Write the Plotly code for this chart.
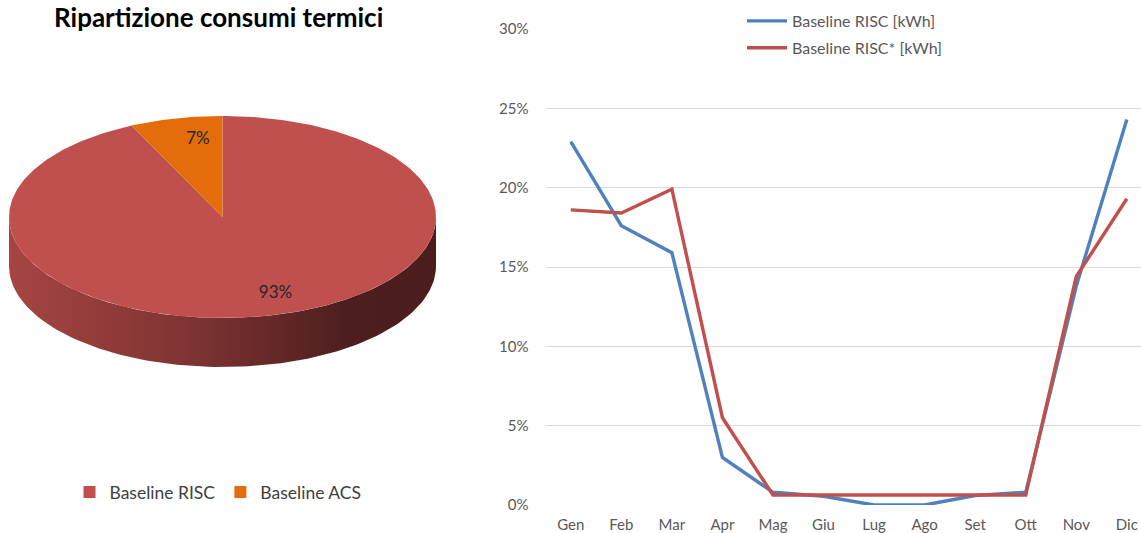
import numpy as np
import plotly.graph_objects as go

# ---- data -------------------------------------------------------------
months = ["Gen", "Feb", "Mar", "Apr", "Mag", "Giu", "Lug", "Ago", "Set", "Ott", "Nov", "Dic"]
risc = [22.9, 17.6, 15.9, 3.0, 0.8, 0.55, 0.0, 0.0, 0.6, 0.8, 13.8, 24.3]
risc_star = [18.6, 18.4, 19.9, 5.5, 0.63, 0.63, 0.63, 0.63, 0.63, 0.63, 14.4, 19.3]
y_ticks = [0, 5, 10, 15, 20, 25, 30]

pie_labels = ["Baseline RISC", "Baseline ACS"]
pie_values = [93, 7]
pie_colors = ["#C0504D", "#E46C0A"]

W, H = 1141, 533
FONT = "Lato"
GREY = "#595959"

fig = go.Figure()

# ---- 3D-style pie (left), drawn in a pixel-scaled axis -----------------
CX, CY, RX, RY, DEPTH = 222.5, 217.0, 213.5, 101.0, 49.0


def rim(a0, a1, n=120, dy=0.0):
    t = np.radians(np.linspace(a0, a1, n))
    return CX + RX * np.sin(t), CY - RY * np.cos(t) + dy


# visible side wall (front half of the disc)
xt, yt = rim(90, 270)
xb, yb = rim(270, 90, dy=DEPTH)
fig.add_trace(go.Scatter(
    x=np.concatenate([xt, xb]), y=np.concatenate([yt, yb]),
    mode="lines", line=dict(width=0), fill="toself",
    fillcolor="#7A3131",
    fillgradient=dict(type="horizontal",
                      colorscale=[[0, "#A64541"], [0.45, "#7C3232"],
                                  [0.8, "#4D1E1E"], [1, "#4C1D1D"]]),
    xaxis="x2", yaxis="y2", showlegend=False, hoverinfo="skip"))

total = float(sum(pie_values))
start = 0.0
label_x, label_y, label_t = [], [], []
for name, val, col in zip(pie_labels, pie_values, pie_colors):
    sweep = 360.0 * val / total
    ex, ey = rim(start, start + sweep, n=max(8, int(sweep)))
    fig.add_trace(go.Scatter(
        x=np.concatenate([[CX], ex, [CX]]), y=np.concatenate([[CY], ey, [CY]]),
        mode="lines", line=dict(width=0), fill="toself", fillcolor=col,
        xaxis="x2", yaxis="y2", showlegend=False, name=name, hoverinfo="skip"))
    mid = np.radians(start + sweep / 2)
    label_x.append(CX + 0.78 * RX * np.sin(mid))
    label_y.append(CY - 0.78 * RY * np.cos(mid))
    label_t.append(f"{round(100 * val / total)}%")
    start += sweep

fig.add_trace(go.Scatter(
    x=label_x, y=label_y, text=label_t, mode="text", textposition="middle right",
    textfont=dict(family=FONT, size=17, color="#262626"),
    xaxis="x2", yaxis="y2", showlegend=False, hoverinfo="skip", cliponaxis=False))

# legend entries for the pie slices
for name, col in zip(pie_labels, pie_colors):
    fig.add_trace(go.Scatter(
        x=[None], y=[None], mode="markers", name=name,
        marker=dict(symbol="square", size=12, color=col),
        xaxis="x2", yaxis="y2", legend="legend2"))

# ---- monthly share lines (right) ---------------------------------------
fig.add_trace(go.Scatter(
    x=months, y=risc, mode="lines", name="Baseline RISC [kWh]",
    line=dict(color="#4F81BD", width=3.4), cliponaxis=False,
    legendgroup="a"))
fig.add_trace(go.Scatter(
    x=months, y=risc_star, mode="lines", name="Baseline RISC* [kWh]",
    line=dict(color="#C0504D", width=3.4), cliponaxis=False,
    legendgroup="b"))

x_left, x_right = 545.5, 1141.0
y_top, y_bot = 29.0, 505.0
step = 50.55
fig.update_layout(
    width=W, height=H,
    margin=dict(l=0, r=0, t=0, b=0, autoexpand=False),
    paper_bgcolor="white", plot_bgcolor="white",
    font=dict(family=FONT, size=14, color=GREY),
    xaxis=dict(
        domain=[x_left / W, x_right / W],
        type="category",
        range=[-0.5, -0.5 + (x_right - x_left) / step],
        showgrid=False, zeroline=False, showline=False, ticks="",
        tickfont=dict(family=FONT, size=15, color=GREY),
        ticklabelstandoff=9, automargin=False,
    ),
    yaxis=dict(
        domain=[1 - y_bot / H, 1 - y_top / H],
        range=[0, 30],
        tickvals=y_ticks, ticktext=[f"{v}%" for v in y_ticks],
        showgrid=True, gridcolor="#D9D9D9", gridwidth=1,
        zeroline=False, showline=False, ticks="",
        tickfont=dict(family=FONT, size=15, color=GREY),
        ticklabelstandoff=16, automargin=False,
    ),
    xaxis2=dict(domain=[0, 460 / W], range=[0, 460], visible=False,
                fixedrange=True, automargin=False),
    yaxis2=dict(domain=[0, 1], range=[H, 0], visible=False, fixedrange=True,
                anchor="x2", automargin=False),
    legend=dict(
        x=742 / W, y=1 - 4 / H, xanchor="left", yanchor="top",
        orientation="v", traceorder="grouped", tracegroupgap=3,
        itemwidth=40,
        font=dict(family=FONT, size=16, color=GREY),
        bgcolor="rgba(0,0,0,0)",
    ),
    legend2=dict(
        x=218 / W, y=1 - 492 / H, xanchor="center", yanchor="middle",
        orientation="h",
        font=dict(family=FONT, size=17.5, color="#404040"),
        bgcolor="rgba(0,0,0,0)",
    ),
    annotations=[dict(
        text="<b>Ripartizione consumi termici</b>",
        x=218 / W, y=1, xref="paper", yref="paper",
        xanchor="center", yanchor="top", showarrow=False, borderpad=0,
        font=dict(family=FONT, size=26, color="#000000"),
    )],
)

fig.write_html("out.html")
